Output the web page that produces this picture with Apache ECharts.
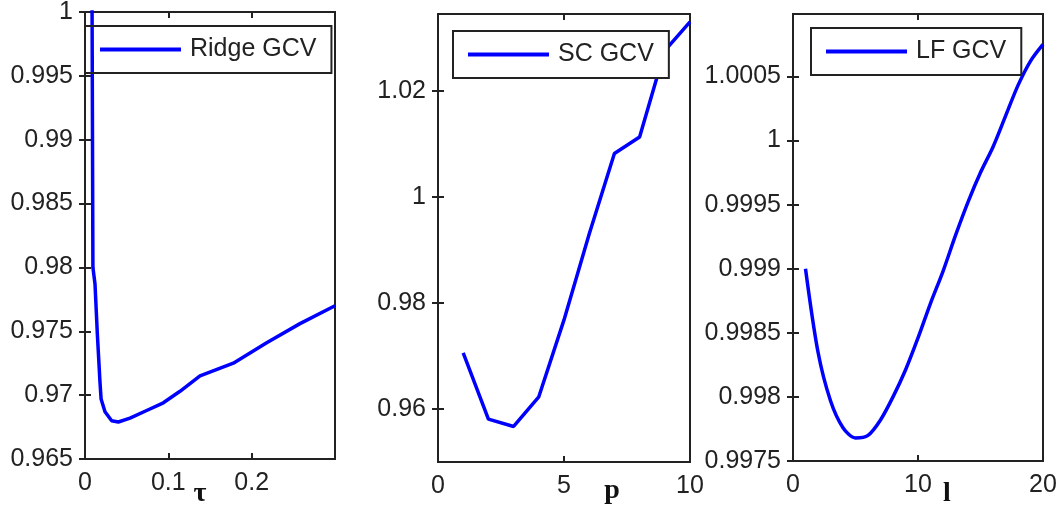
<!DOCTYPE html>
<html>
<head>
<meta charset="utf-8">
<script src="https://cdn.jsdelivr.net/npm/echarts@6/dist/echarts.min.js"></script>
<style>
  html, body { margin: 0; padding: 0; background: #fff; }
  #chart { width: 1060px; height: 510px; }
</style>
</head>
<body>
<div id="chart"></div>
<script>
// ridge panel: GCV against tau
const ridgeTau = [0.008, 0.0095, 0.012, 0.0148, 0.018, 0.0193, 0.024, 0.032, 0.040, 0.054, 0.074, 0.094, 0.114, 0.138, 0.178, 0.218, 0.258, 0.300];
const ridgeGcv = [1.01, 0.9800, 0.9787, 0.9748, 0.9710, 0.9697, 0.9687, 0.9680, 0.9679, 0.9682, 0.9688, 0.9694, 0.9703, 0.9715, 0.9725, 0.9741, 0.9756, 0.9770];

// SC panel: GCV against p
const scP = [1, 2, 3, 4, 5, 6, 7, 8, 9, 10];
const scGcv = [0.9706, 0.9581, 0.9567, 0.9623, 0.9768, 0.9930, 1.0082, 1.0113, 1.0276, 1.0330];

// LF panel: GCV against l
const lfL = [1, 2, 3, 4, 5, 6, 7, 8, 9, 10, 11, 12, 13, 14, 15, 16, 17, 18, 19, 20];
const lfGcv = [0.99900, 0.99835, 0.99797, 0.99776, 0.99768, 0.99770, 0.99782, 0.99800, 0.99821, 0.99846,
               0.99873, 0.99898, 0.99926, 0.99952, 0.99975, 0.99995, 1.00019, 1.00043, 1.00062, 1.00075];

const ridgeXTicks = [0, 0.1, 0.2];
const ridgeYTicks = [0.965, 0.97, 0.975, 0.98, 0.985, 0.99, 0.995, 1];
const scXTicks = [0, 5, 10];
const scYTicks = [0.96, 0.98, 1, 1.02];
const lfXTicks = [0, 10, 20];
const lfYTicks = [0.9975, 0.998, 0.9985, 0.999, 0.9995, 1, 1.0005];

const panels = [
  { name: 'Ridge GCV', axisName: 'τ', x: ridgeTau, y: ridgeGcv, xMin: 0, xMax: 0.3, yMin: 0.965, yMax: 1,
    xTicks: ridgeXTicks, yTicks: ridgeYTicks, grid: { left: 85, top: 12, width: 250, height: 447 },
    legend: { left: 85, top: 26, bg: 'transparent' }, namePad: [0, 20, 0, 0], nameGap: 21 },
  { name: 'SC GCV', axisName: 'p', x: scP, y: scGcv, xMin: 0, xMax: 10, yMin: 0.95, yMax: 1.0345,
    xTicks: scXTicks, yTicks: scYTicks, grid: { left: 438, top: 14, width: 252, height: 448 },
    legend: { left: 453, top: 31, bg: '#fff' }, namePad: [0, 0, 0, 96], nameGap: 15 },
  { name: 'LF GCV', axisName: 'l', x: lfL, y: lfGcv, xMin: 0, xMax: 20, yMin: 0.9975, yMax: 1.000987,
    xTicks: lfXTicks, yTicks: lfYTicks, grid: { left: 793, top: 14, width: 250, height: 447 },
    legend: { left: 811, top: 28, bg: '#fff' }, namePad: [0, 0, 0, 58], nameGap: 19, smooth: 0.3 }
];

const ink = '#222';
const labelFont = { color: ink, fontFamily: 'Liberation Sans', fontSize: 25 };

const tick = (values) => ({
  show: true, inside: true, length: 6, customValues: values,
  lineStyle: { color: ink, width: 2 }
});

const chart = echarts.init(document.getElementById('chart'));

const grids = panels.map(p => ({
  ...p.grid, show: true, borderColor: ink, borderWidth: 2, backgroundColor: 'transparent',
  containLabel: false, outerBoundsMode: 'none'
}));

const xAxes = [];
const yAxes = [];
// bottom / left axes with labels
panels.forEach((p, i) => {
  xAxes.push({
    type: 'value', gridIndex: i, min: p.xMin, max: p.xMax, position: 'bottom',
    axisLine: { show: false }, splitLine: { show: false },
    axisTick: tick(p.xTicks),
    axisLabel: { ...labelFont, margin: 12, customValues: p.xTicks },
    name: p.axisName, nameLocation: 'middle', nameGap: p.nameGap, nameMoveOverlap: false,
    nameTextStyle: { color: '#111', fontFamily: 'Liberation Serif', fontWeight: 'bold', fontSize: 28, padding: p.namePad }
  });
  yAxes.push({
    type: 'value', gridIndex: i, min: p.yMin, max: p.yMax, position: 'left',
    axisLine: { show: false }, splitLine: { show: false },
    axisTick: tick(p.yTicks),
    axisLabel: { ...labelFont, margin: 12, customValues: p.yTicks }
  });
});
// top / right axes: ticks only
panels.forEach((p, i) => {
  xAxes.push({
    type: 'value', gridIndex: i, min: p.xMin, max: p.xMax, position: 'top',
    axisLine: { show: false }, splitLine: { show: false },
    axisTick: tick(p.xTicks), axisLabel: { show: false }
  });
  yAxes.push({
    type: 'value', gridIndex: i, min: p.yMin, max: p.yMax, position: 'right',
    axisLine: { show: false }, splitLine: { show: false },
    axisTick: tick(p.yTicks), axisLabel: { show: false }
  });
});

const legends = panels.map(p => ({
  data: [p.name],
  left: p.legend.left, top: p.legend.top,
  orient: 'horizontal',
  icon: 'rect', itemWidth: 81, itemHeight: 4,
  padding: [11, 15, 11, 15],
  borderColor: ink, borderWidth: 2, borderRadius: 0,
  backgroundColor: p.legend.bg,
  selectedMode: false,
  textStyle: { ...labelFont, padding: [0, 0, 0, 4] }
}));

const series = panels.map((p, i) => ({
  type: 'line',
  name: p.name,
  xAxisIndex: i,
  yAxisIndex: i,
  data: p.x.map((v, k) => [v, p.y[k]]),
  showSymbol: false,
  smooth: p.smooth || false,
  clip: true,
  lineStyle: { color: '#0000ff', width: 3.5 },
  itemStyle: { color: '#0000ff' }
}));

chart.setOption({
  animation: false,
  backgroundColor: '#fff',
  grid: grids,
  xAxis: xAxes,
  yAxis: yAxes,
  legend: legends,
  series: series
});
</script>
</body>
</html>
